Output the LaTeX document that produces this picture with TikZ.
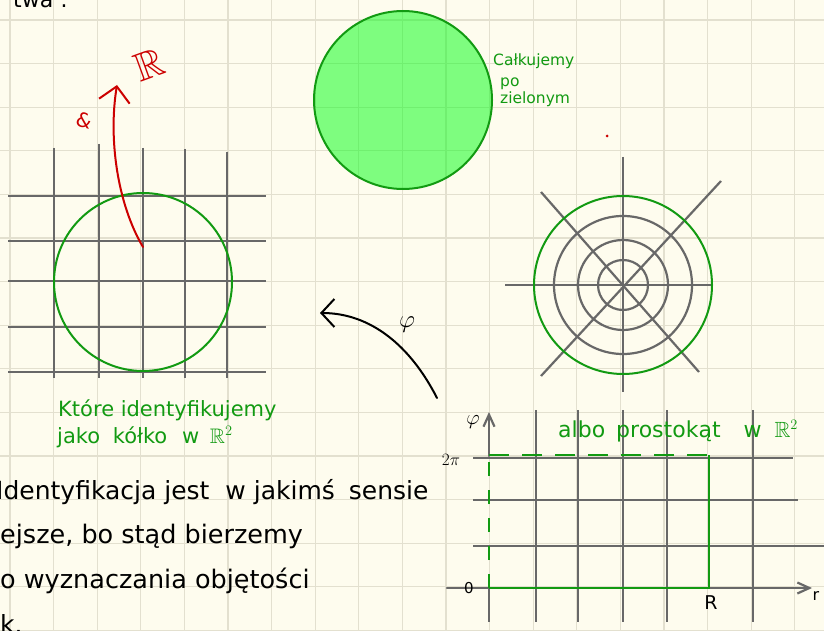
\documentclass[tikz,border=0pt]{standalone}
\usepackage{amssymb}
\usepackage{fontspec}
\setmainfont{DejaVu Sans}
\usetikzlibrary{arrows.meta}
\definecolor{paper}{HTML}{FEFCEE}
\definecolor{faint}{HTML}{E3E0CF}
\definecolor{ink}{HTML}{686868}
\definecolor{grn}{HTML}{129A12}
\definecolor{lgrn}{RGB}{0,255,18}
\definecolor{rd}{HTML}{CC0000}
\begin{document}
\begin{tikzpicture}[x=1pt,y=-1pt,
  paperline/.style={faint, line width=1.2pt},
  gridline/.style={ink, line width=2.2pt},
  greenline/.style={grn, line width=2pt},
  txt/.style={inner sep=0pt, anchor=base west},
  hand/.style={line width=2pt, line cap=round, line join=round},
  fs/.style={font=\fontsize{#1}{#1}\selectfont}]
\useasboundingbox (0,0) rectangle (824,631);
\clip (0,0) rectangle (824,631);
\fill[paper] (0,0) rectangle (824,631);
\foreach \i in {0,...,18} \draw[paperline] ({10+43.6*\i},0) -- ({10+43.6*\i},631);
\foreach \j in {0,...,14} \draw[paperline] (0,{20+43.6*\j}) -- (824,{20+43.6*\j});

% top fragment
\node[txt, fs=22] (tw) at (13,8) {twa :};

% big filled disk
\fill[lgrn, fill opacity=0.5] (403,100) circle[radius=89pt];
\node[circle, draw=grn, line width=2pt, minimum size=178pt, inner sep=0pt] (disk) at (403,100) {};
\node[txt, grn, fs=15.5] (c1) at (493,66) {Całkujemy};
\node[txt, grn, fs=15.5] (c2) at (500,87) {po};
\node[txt, grn, fs=15.5] (c3) at (500,104) {zielonym};
\fill[rd] (607,136) circle[radius=1.5pt];

% left grid
\foreach \x/\t in {54/148,99/144,143/148,185/149,227/152} \draw[gridline] (\x,\t) -- (\x,378);
\foreach \y in {196,241,281,327,372} \draw[gridline] (8,\y) -- (266,\y);
\node[circle, draw=grn, line width=2pt, minimum size=178pt, inner sep=0pt] (lc) at (143,282) {};

% red arrow
\coordinate (rs) at (143,247);
\coordinate (re) at (117,85);
\draw[rd, hand, -{Straight Barb[length=15pt,width=31pt]}] (rs) .. controls (118,205) and (108,140) .. (re);
\node[rd, fs=40, rotate=20] (RR) at (149,65) {$\mathbb{R}$};
\node[rd, fs=20, rotate=-15] (amp) at (84,120) {\&};

% polar diagram
\coordinate (pc) at (623,285);
\draw[gridline] (505,285) -- (713,285);
\draw[gridline] (623,157) -- (623,392);
\draw[gridline] (541,192) -- (699,372);
\draw[gridline] (721,181) -- (541,376);
\foreach \r in {25,45,69} \draw[gridline] (pc) circle[radius=\r pt];
\node[circle, draw=grn, line width=2pt, minimum size=178pt, inner sep=0pt] (pcirc) at (pc) {};

% phi arrow
\coordinate (ps) at (437,398);
\coordinate (pe) at (320,313);
\draw[black, hand, -{Straight Barb[length=13pt,width=28pt]}] (ps) .. controls (410,345) and (370,313) .. (pe);
\node[fs=24] (phi) at (407,325) {$\varphi$};

% green captions
\node[txt, grn, fs=21] (k1) at (58,416) {Które identyfikujemy};
\node[txt, grn, fs=21] (k2) at (57,443) {jako \hspace{6pt}kółko \hspace{8pt}w \hspace{4pt}$\mathbb{R}^2$};

% bottom-right grid
\foreach \x in {536,578,623,667,753} \draw[gridline] (\x,410) -- (\x,622);
\draw[gridline] (489,588) -- (489,622);
\draw[gridline] (709,455) -- (709,588);
\draw[gridline] (473,458) -- (793,458);
\draw[gridline] (473,500) -- (798,500);
\draw[gridline] (473,546) -- (824,546);
\coordinate (ra0) at (447,588);
\coordinate (ra1) at (812,588);
\coordinate (pa0) at (489,456);
\coordinate (pa1) at (489,412);
\draw[gridline, line cap=round, -{Straight Barb[length=12pt,width=11pt]}] (ra0) -- (ra1);
\draw[gridline, line cap=round, -{Straight Barb[length=12pt,width=11pt]}] (pa0) -- (pa1);
\draw[grn, line width=2.5pt, dash pattern=on 14pt off 14pt] (489,588) -- (489,462);
\draw[grn, line width=2.5pt, dash pattern=on 20pt off 13pt] (489,455) -- (709,455);
\draw[grn, line width=2.5pt] (709,455) -- (709,588) -- (489,588);
\node[fs=20] (lphi) at (473,422) {$\varphi$};
\node[fs=17] (l2pi) at (451,460) {$2\pi$};
\node[fs=15] (l0) at (469,588) {0};
\node[fs=19] (lR) at (711,603) {R};
\node[fs=16] (lr) at (816,596) {r};
\node[txt, grn, fs=22] (albo) at (558,437) {albo \hspace{4pt}prostokąt \hspace{16pt}w \hspace{6pt}$\mathbb{R}^2$};

% bottom text
\node[txt, fs=25] (t1) at (-4,499) {Identyfikacja jest \hspace{8pt}w jakimś \hspace{6pt}sensie};
\node[txt, fs=25.5] (t2) at (0,543) {ejsze, bo stąd bierzemy};
\node[txt, fs=25.5] (t3) at (0,588) {o wyznaczania objętości};
\node[txt, fs=25] (t4) at (0,633) {k.};
\end{tikzpicture}
\end{document}
